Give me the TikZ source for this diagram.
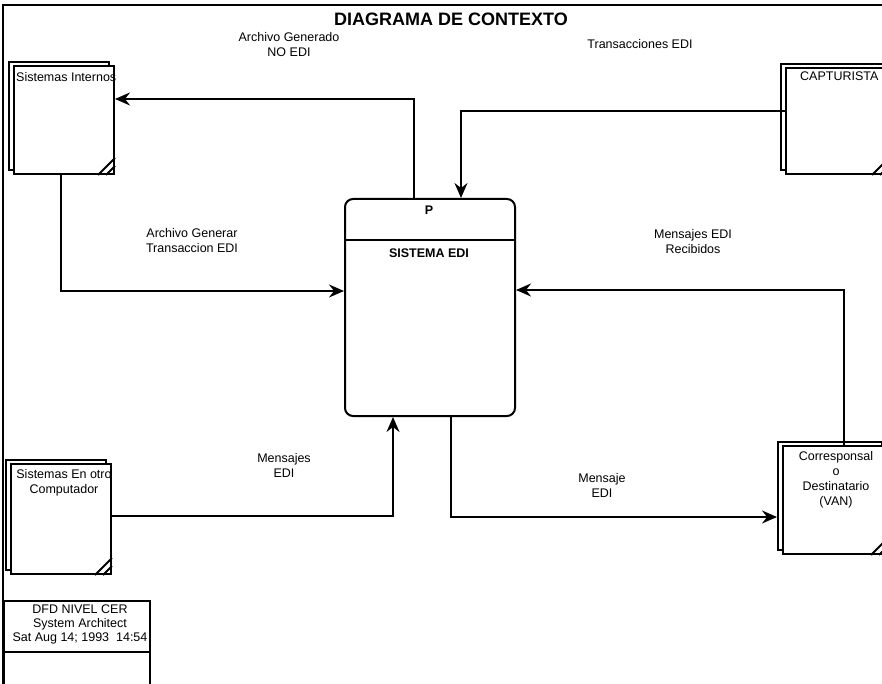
\documentclass[tikz,border=0pt]{standalone}
\usepackage{fontspec}
\setmainfont{Liberation Sans}
\usetikzlibrary{arrows.meta,shadows}
\begin{document}
\begin{tikzpicture}[x=1pt,y=-1pt,
  line join=miter,
  ext/.style={draw, line width=2pt, fill=white, inner sep=0pt, anchor=north west,
    copy shadow={shadow xshift=-5pt, shadow yshift=4pt, draw, line width=2pt, fill=white}},
  proc/.style={draw, line width=2pt, rounded corners=8pt, inner sep=0pt, anchor=north west},
  conn/.style={line width=1.8pt, -{Stealth[length=15pt,width=13pt,inset=5pt]}},
  lbl/.style={font=\fontsize{12.5}{15}\selectfont, align=center, inner sep=0pt},
  btxt/.style={font=\fontsize{12.5}{15}\selectfont, inner sep=0pt, align=center},
  corner/.style={line width=2pt}
]
\clip (0,0) rectangle (882,684);
\fill[white] (0,0) rectangle (882,684);
% frame
\draw[line width=1.5pt] (3,690) -- (3,5) -- (890,5);
\node[font=\fontsize{18}{20}\selectfont\bfseries, inner sep=0pt] (title) at (451,19) {DIAGRAMA DE CONTEXTO};

% external entities
\node[ext, minimum width=100pt, minimum height=108pt] (si) at (13,65) {};
\node[ext, minimum width=102pt, minimum height=106pt] (cap) at (785,67) {};
\node[ext, minimum width=100pt, minimum height=110pt] (sc) at (10,463) {};
\node[ext, minimum width=104pt, minimum height=108pt] (cor) at (782,445) {};

\foreach \n in {si,cap,sc,cor}{
  \draw[corner] ([xshift=-17pt]\n.south east) -- ([yshift=17pt]\n.south east);
  \draw[corner] ([xshift=-9pt]\n.south east) -- ([yshift=9pt]\n.south east);
}

\node[btxt, anchor=west] (sit) at (16,77) {Sistemas Internos};
\node[btxt, anchor=west] (capt) at (800,76) {CAPTURISTA};
\begin{scope}
  \clip (10,463) rectangle (110,573);
  \node[btxt, anchor=north] (sct) at (64,469) {Sistemas En otro\\Computador};
\end{scope}
\node[btxt, anchor=north] (cort) at (836,451) {Corresponsal\\o\\Destinatario\\(VAN)};

% process
\node[proc, minimum width=170pt, minimum height=217pt] (p) at (344,198) {};
\draw[line width=2pt] (344,240) -- (514,240);
\node[font=\fontsize{12.5}{15}\selectfont\bfseries, inner sep=0pt] (pt) at (429,210) {P};
\node[font=\fontsize{12.5}{15}\selectfont\bfseries, inner sep=0pt] (pn) at (429,253) {SISTEMA EDI};

% DFD box
\node[draw, line width=1.8pt, inner sep=0pt, anchor=north west, minimum width=146pt, minimum height=95pt] (dfd) at (3,600) {};
\draw[line width=1.8pt] (3,652) -- (149,652);
\begin{scope}
  \clip (3,600) rectangle (148,652);
  \node[btxt, anchor=north, font=\fontsize{12.5}{14}\selectfont] (dfdt) at (80,605) {DFD NIVEL CER\\System Architect\\Sat Aug 14; 1993~~14:54};
\end{scope}

% connectors
\draw[conn] ([xshift=-16pt]p.north) |- ([yshift=21pt]si.east);
\draw[conn] ([yshift=10pt]cap.west) -| ([xshift=31pt]p.north);
\draw[conn] ([xshift=-3pt]si.south) |- ([yshift=16.5pt]p.west);
\draw[conn] ([xshift=9pt]cor.north) |- ([yshift=17.5pt]p.east);
\draw[conn] (sc.east |- 0,516) -| ([xshift=-37pt]p.south);
\draw[conn] ([xshift=21pt]p.south) |- ([xshift=-5pt]cor.west |- 0,517);

% labels
\node[lbl] (l1) at (289,45) {Archivo Generado\\NO EDI};
\node[lbl] (l2) at (640,44) {Transacciones EDI};
\node[lbl] (l3) at (192,241) {Archivo Generar\\Transaccion EDI};
\node[lbl] (l4) at (693,242) {Mensajes EDI\\Recibidos};
\node[lbl] (l5) at (284,465) {Mensajes\\EDI};
\node[lbl] (l6) at (602,485) {Mensaje\\EDI};
\end{tikzpicture}
\end{document}
